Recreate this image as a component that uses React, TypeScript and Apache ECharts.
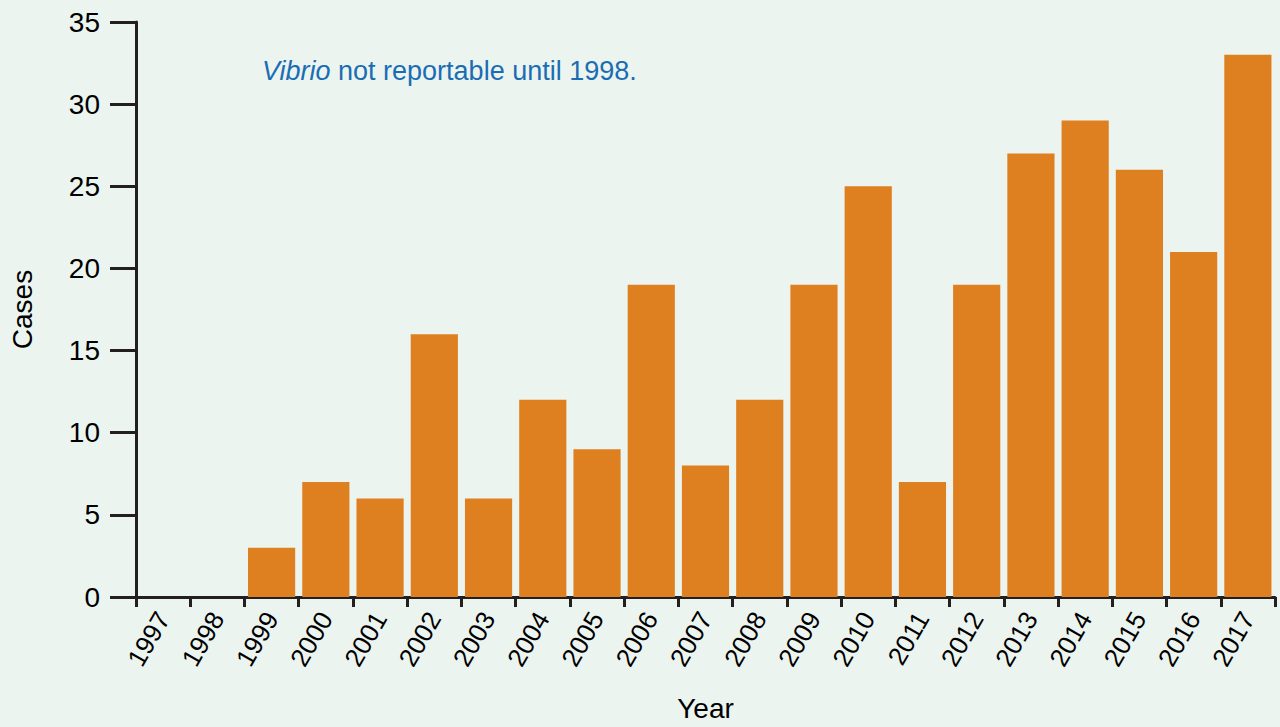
import React, { useEffect, useRef } from "react";
import * as echarts from "echarts";

const years = ["1997","1998","1999","2000","2001","2002","2003","2004","2005","2006","2007","2008","2009","2010","2011","2012","2013","2014","2015","2016","2017"];
const cases = [0,0,3,7,6,16,6,12,9,19,8,12,19,25,7,19,27,29,26,21,33];
const yTicks = { min: 0, max: 35, interval: 5 };

const FONT = "'Liberation Sans Narrow', 'Liberation Sans', Arial, sans-serif";
const AXIS = "#231f20";

export default function App() {
  const ref = useRef<HTMLDivElement>(null);
  useEffect(() => {
    const chart = echarts.init(ref.current!, null, { renderer: "svg" });
    chart.setOption({
      animation: false,
      backgroundColor: "#ecf4f0",
      grid: { left: 136, right: 5, top: 22, bottom: 127 },
      xAxis: {
        type: "category",
        data: years,
        name: "Year",
        nameLocation: "middle",
        nameGap: 97,
        nameTextStyle: { fontFamily: FONT, fontSize: 28, color: "#000" },
        axisLine: { lineStyle: { color: AXIS, width: 3 } },
        axisTick: { show: true, alignWithLabel: false, length: 10, lineStyle: { color: AXIS, width: 3 } },
        axisLabel: { rotate: 60, fontFamily: FONT, fontSize: 26, color: "#000", margin: 17 },
      },
      yAxis: {
        type: "value",
        min: yTicks.min,
        max: yTicks.max,
        interval: yTicks.interval,
        name: "Cases",
        nameLocation: "middle",
        nameGap: 100,
        nameRotate: 90,
        nameTextStyle: { fontFamily: FONT, fontSize: 28, color: "#000" },
        axisLine: { show: true, lineStyle: { color: AXIS, width: 3 } },
        axisTick: { show: true, length: 26, lineStyle: { color: AXIS, width: 3 } },
        axisLabel: { fontFamily: FONT, fontSize: 28, color: "#000", margin: 36 },
        splitLine: { show: false },
      },
      graphic: [
        {
          type: "text",
          left: 262,
          top: 57,
          style: {
            text: "{i|Vibrio} not reportable until 1998.",
            fontFamily: FONT,
            fontSize: 27,
            fill: "#1a6db3",
            rich: { i: { fontFamily: FONT, fontSize: 27, fontStyle: "italic", fill: "#1a6db3" } },
          },
        },
      ],
      series: [
        {
          type: "bar",
          data: cases,
          barCategoryGap: "13%",
          itemStyle: { color: "#df8020" },
        },
      ],
    });
    return () => chart.dispose();
  }, []);
  return <div ref={ref} style={{ width: 1280, height: 727, position: "absolute", left: 0, top: 0 }} />;
}
